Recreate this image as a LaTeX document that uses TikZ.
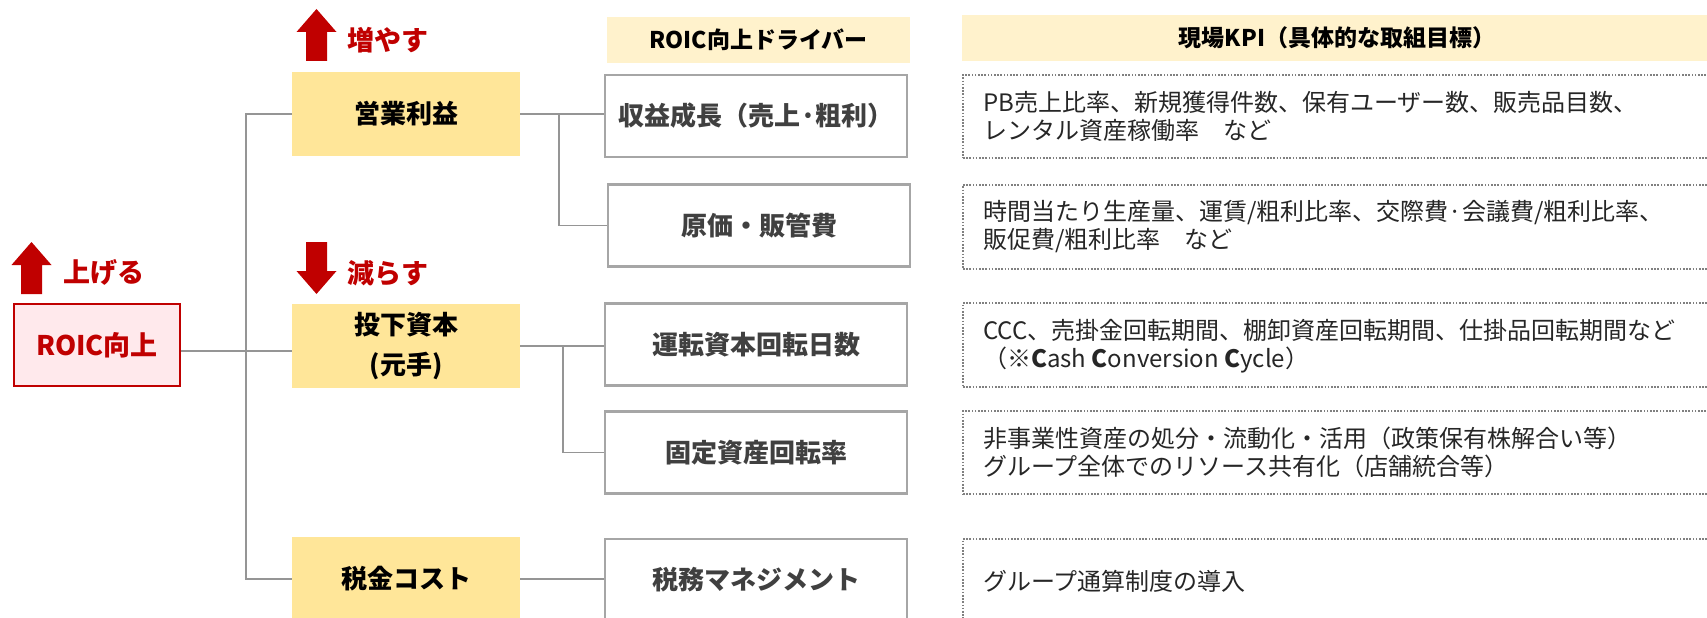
\documentclass[tikz,border=0pt]{standalone}
\usepackage{fontspec}
\setmainfont{Noto Sans CJK JP}
\usetikzlibrary{calc}
\definecolor{roicred}{HTML}{C00000}
\definecolor{roicpink}{HTML}{FFE9EC}
\definecolor{ylw}{HTML}{FFE699}
\definecolor{hdr}{HTML}{FFF2CC}
\definecolor{bgray}{HTML}{A6A6A6}
\definecolor{cgray}{HTML}{959595}
\definecolor{dgray}{HTML}{808080}
\definecolor{dtext}{HTML}{404040}
\tikzset{
  uparr/.pic={\fill[roicred] (0,0) -- (20,23) -- (10.5,23) -- (10.5,52) -- (-10.5,52) -- (-10.5,23) -- (-20,23) -- cycle;},
  ybox/.style={fill=ylw, minimum width=228pt, minimum height=84pt, inner sep=0pt, font=\fontsize{26}{32}\selectfont\bfseries},
  roicbox/.style={draw=roicred, line width=2.5pt, fill=roicpink, minimum width=166pt, minimum height=82pt, inner sep=0pt, text=roicred, font=\fontsize{27}{32}\selectfont\bfseries},
  dbox/.style={draw=bgray, line width=2.5pt, minimum width=302pt, minimum height=82pt, inner sep=0pt, text=dtext, font=\fontsize{26}{32}\selectfont\bfseries},
  hbox/.style={fill=hdr, minimum height=46pt, inner sep=0pt, font=\fontsize{23}{28}\selectfont\bfseries},
  kbox/.style={draw=dgray, line width=1.8pt, dash pattern=on 1.6pt off 1.6pt, minimum width=770pt, inner sep=0pt, anchor=north west},
  ktext/.style={anchor=west, align=left, inner sep=0pt, text=black!85, font=\fontsize{24}{28}\selectfont},
  rlabel/.style={text=roicred, inner sep=0pt, font=\fontsize{27}{32}\selectfont\bfseries},
  conn/.style={draw=cgray, line width=1.5pt}
}
\begin{document}
\begin{tikzpicture}[x=1pt,y=-1pt]
\useasboundingbox (0,0) rectangle (1707,618);
\clip (0,0) rectangle (1707,618);

% red arrows and labels
\pic at (316.5,9) {uparr};
\node[rlabel] (lbl1) at (388,40) {増やす};
\pic[yscale=-1] at (316.5,294) {uparr};
\node[rlabel] (lbl2) at (388,273) {減らす};
\pic at (31.5,242) {uparr};
\node[rlabel] (lbl3) at (104,272) {上げる};

% left column
\node[roicbox] (roic) at (97,345) {ROIC向上};
\node[ybox] (eig) at (406,114) {営業利益};
\node[ybox, align=center, font=\fontsize{26}{40}\selectfont\bfseries] (toka) at (406,346) {投下資本\\(元手)};
\node[ybox] (zei) at (406,579) {税金コスト};

% drivers
\node[hbox, minimum width=303pt] (dh) at (758.5,40) {ROIC向上ドライバー};
\node[dbox] (d1) at (756,116) {収益成長（売上·粗利）};
\node[dbox] (d2) at (759,225.5) {原価・販管費};
\node[dbox] (d3) at (756,344.5) {運転資本回転日数};
\node[dbox] (d4) at (756,452.5) {固定資産回転率};
\node[dbox] (d5) at (756,580) {税務マネジメント};

% KPI
\node[hbox, minimum width=750pt] (kh) at (1337,38) {現場KPI（具体的な取組目標）};
\node[kbox, minimum height=83pt] (k1) at (962,74) {};
\node[kbox, minimum height=84pt] (k2) at (962,184) {};
\node[kbox, minimum height=84pt] (k3) at (962,302) {};
\node[kbox, minimum height=83pt] (k4) at (962,410) {};
\node[kbox, minimum height=84pt] (k5) at (962,538) {};
\node[ktext] (k1t) at ($(k1.west)+(21,0)$) {PB売上比率、新規獲得件数、保有ユーザー数、販売品目数、\\レンタル資産稼働率　など};
\node[ktext] (k2t) at ($(k2.west)+(21,0)$) {時間当たり生産量、運賃/粗利比率、交際費·会議費/粗利比率、\\販促費/粗利比率　など};
\node[ktext] (k3t) at ($(k3.west)+(21,1)$) {CCC、売掛金回転期間、棚卸資産回転期間、仕掛品回転期間など\\（※\textbf{C}ash \textbf{C}onversion \textbf{C}ycle）};
\node[ktext] (k4t) at ($(k4.west)+(21,0)$) {非事業性資産の処分・流動化・活用（政策保有株解合い等）\\グループ全体でのリソース共有化（店舗統合等）};
\node[ktext] (k5t) at ($(k5.west)+(21,0)$) {グループ通算制度の導入};

% connectors
\coordinate (r1) at ($(eig.west)+(-46,0)$);
\draw[conn] ([yshift=-6pt]roic.east) -- ([yshift=-6pt]roic.east -| toka.west);
\draw[conn] (eig.west) -- (r1) |- (zei.west);
\draw[conn] (eig.east) -- (eig.east -| d1.west);
\coordinate (j1) at (559,114);
\draw[conn] (j1) |- (d2.west);
\draw[conn] (toka.east) -- (toka.east -| d3.west);
\coordinate (j2) at (563,346);
\draw[conn] (j2) |- (d4.west);
\draw[conn] (zei.east) -- (zei.east -| d5.west);
\end{tikzpicture}
\end{document}
